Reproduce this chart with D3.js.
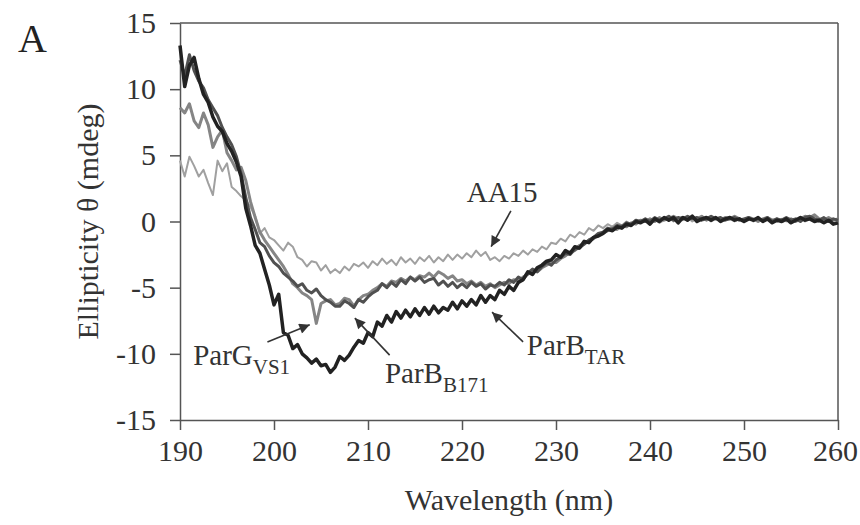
<!DOCTYPE html>
<html>
<head>
  <meta charset="utf8">
  <script src="https://d3js.org/d3.v7.min.js"></script>
  <style>
    body { margin: 0; background: #fff; }
    text { font-family: "Liberation Serif", "Times New Roman", serif; fill: #333; }
    .axis path, .axis line { stroke: #555; stroke-width: 1.5; }
    .axis text { font-size: 30px; fill: #333; }
    .curve { fill: none; stroke-linejoin: round; }
  </style>
</head>
<body>
  <svg id="chart" width="860" height="525"></svg>

  <script>
    // wavelength grid of the scan, 0.5 nm step
    var wavelengths = d3.range(190, 260.25, 0.5);

    var parBTAR = [
      13.3, 10.2, 11.8, 12.4, 10.8, 9.6, 9.0, 7.9, 7.2, 6.8,
      5.9, 5.3, 4.5, 3.4, 1.0, -0.3, -1.8, -2.4, -3.6, -4.8,
      -6.3, -5.5, -8.4, -8.6, -9.6, -9.3, -10.0, -10.3, -10.7, -10.4,
      -10.9, -10.8, -11.4, -11.0, -10.2, -10.5, -10.1, -9.5, -9.0, -9.2,
      -8.4, -8.7, -7.6, -7.9, -7.1, -7.6, -6.8, -7.3, -6.7, -7.2,
      -6.6, -7.1, -6.5, -7.0, -6.4, -6.9, -6.5, -6.7, -6.1, -6.6,
      -6.0, -6.4, -5.9, -6.3, -5.6, -6.1, -5.6, -5.9, -5.2, -5.5,
      -4.9, -5.2, -4.6, -4.4, -3.8, -4.0, -3.5, -3.3, -3.0, -2.9,
      -2.5, -2.7, -2.2, -2.4, -1.9, -2.0, -1.5, -1.6, -1.2, -1.1,
      -0.9, -0.6, -0.7, -0.4, -0.5, -0.2, -0.3, 0.0, -0.1, 0.1,
      -0.2, 0.2, 0.0, 0.3, 0.1, 0.3, -0.1, 0.3, 0.1, 0.4,
      0.0, 0.2, 0.3, 0.1, 0.3, 0.0, 0.2, 0.3, 0.1, 0.2,
      0.0, 0.2, 0.1, 0.3, 0.0, 0.2, -0.1, 0.1, 0.0, 0.2,
      -0.1, 0.1, 0.3, 0.1, 0.2, 0.0, 0.1, -0.1, 0.1, -0.2,
      -0.1
    ];

    var parBB171 = [
      12.2, 11.0, 12.6, 11.4, 10.6, 10.1, 9.2, 8.6, 8.0, 7.1,
      6.4, 5.8, 4.9, 3.6, 1.8, 0.3, -0.6, -1.6, -1.9, -2.6,
      -3.1, -3.4, -3.9, -4.2, -4.5, -4.9, -4.7, -5.2, -5.4, -5.1,
      -5.6, -5.9, -6.1, -6.4, -6.4, -6.0, -6.2, -6.5, -5.9, -6.1,
      -5.7, -5.4, -5.2, -4.7, -5.0, -4.6, -4.9, -4.4, -4.7, -4.2,
      -4.5, -4.2, -4.6, -4.4, -4.3, -4.8, -4.5, -4.9, -4.6, -5.0,
      -4.7, -5.0, -4.6, -4.9, -4.7, -5.1, -4.8, -4.9, -4.6, -4.8,
      -4.4, -4.6, -4.2, -4.4, -3.9, -3.6, -3.8, -3.4, -3.1, -3.3,
      -2.9, -2.7, -2.4, -2.5, -2.1, -2.0, -1.7, -1.4, -1.2, -0.9,
      -0.8, -0.5, -0.6, -0.3, -0.4, -0.1, -0.2, 0.1, 0.0, 0.2,
      0.0, 0.3, 0.1, 0.2, 0.4, 0.1, 0.3, 0.2, 0.4, 0.2,
      0.3, 0.1, 0.2, 0.4, 0.2, 0.3, 0.1, 0.2, 0.3, 0.1,
      0.2, 0.3, 0.1, 0.2, 0.1, 0.3, 0.0, 0.2, 0.1, 0.3,
      0.1, 0.2, 0.0, 0.3, 0.4, 0.2, 0.1, 0.3, 0.0, 0.2,
      0.1
    ];

    var parGVS1 = [
      8.6, 8.2, 8.9, 7.6, 7.1, 8.2, 7.3, 5.6, 6.4, 6.9,
      5.2, 4.6, 3.9, 4.1, 3.1, 1.5, 0.3, -0.8, -1.4, -1.9,
      -2.4, -2.9, -3.4, -4.0, -4.7, -5.0, -5.4, -5.6, -5.9, -7.7,
      -6.2, -6.0, -5.9, -6.3, -6.2, -5.8, -5.9, -6.4, -5.9, -5.6,
      -5.5, -5.2, -5.0, -4.7, -4.9, -4.5, -4.6, -4.3, -4.5, -4.2,
      -4.4, -4.1, -4.2, -3.9, -4.2, -3.8, -4.0, -4.3, -4.1, -4.5,
      -4.4, -4.7, -4.5, -4.8, -4.6, -4.9, -4.7, -5.0, -4.8, -4.6,
      -4.7, -4.4, -4.5, -4.2, -4.0, -3.7, -3.8, -3.5, -3.3, -3.1,
      -3.1, -2.8, -2.6, -2.3, -2.2, -1.8, -1.7, -1.4, -1.3, -1.0,
      -0.9, -0.7, -0.5, -0.6, -0.3, -0.4, -0.1, -0.2, 0.1, 0.0,
      0.2, 0.0, 0.3, 0.1, 0.2, 0.4, 0.2, 0.3, 0.1, 0.3,
      0.2, 0.4, 0.1, 0.3, 0.2, 0.1, 0.3, 0.2, 0.4, 0.2,
      0.1, 0.3, 0.2, 0.0, 0.2, 0.3, 0.1, 0.2, 0.0, 0.1,
      0.2, 0.0, 0.2, 0.4, 0.3, 0.5, 0.2, 0.1, 0.3, 0.1,
      0.2
    ];

    var aa15 = [
      4.6, 3.4, 4.9, 4.2, 3.4, 3.9, 2.9, 2.0, 4.6, 3.8,
      4.4, 2.6, 2.3, 1.9, 1.6, 1.1, 0.4, -0.9, -0.5, -1.2,
      -1.4, -1.8, -2.2, -1.6, -1.9, -2.7, -2.9, -3.4, -3.0, -3.1,
      -3.7, -3.3, -3.9, -3.6, -3.9, -3.4, -3.7, -3.2, -3.4, -3.1,
      -3.5, -3.0, -3.3, -2.8, -3.2, -2.9, -3.3, -2.7, -3.1, -2.8,
      -3.2, -2.7, -3.0, -2.6, -3.1, -2.7, -3.0, -2.5, -2.9, -2.5,
      -2.8, -2.4, -2.7, -2.2, -2.6, -2.3, -2.9, -2.7, -3.0, -2.6,
      -2.8, -2.4, -2.6, -2.2, -2.5, -2.1, -2.3, -1.9, -2.1, -1.6,
      -1.7, -1.3, -1.5, -1.0, -1.2, -0.8, -1.0, -0.5, -0.7, -0.3,
      -0.5, -0.2, -0.4, -0.1, -0.3, 0.0, -0.2, 0.1, -0.1, 0.2,
      0.0, 0.2, -0.1, 0.1, 0.3, 0.0, 0.2, 0.1, 0.3, 0.0,
      0.2, 0.1, 0.3, 0.0, 0.2, 0.1, 0.3, 0.2, 0.0, 0.2,
      0.1, 0.3, 0.0, 0.2, 0.1, 0.2, 0.0, 0.1, 0.2, 0.0,
      0.2, 0.1, 0.3, 0.0, 0.2, 0.1, 0.0, 0.2, 0.1, -0.1,
      0.0
    ];

    var xTicks = [190, 200, 210, 220, 230, 240, 250, 260];
    var yTicks = [-15, -10, -5, 0, 5, 10, 15];

    var series = [
      { name: 'AA15', values: aa15, color: '#a0a0a0', width: 2 },
      { name: 'ParGVS1', values: parGVS1, color: '#858585', width: 3 },
      { name: 'ParBB171', values: parBB171, color: '#505050', width: 3 },
      { name: 'ParBTAR', values: parBTAR, color: '#222222', width: 3.5 }
    ];

    // labels: text anchor and arrow (tail -> tip) in data units
    var labels = [
      { main: 'AA15', sub: '', tx: 220.5, ty: 1.45, ax: 225.2, ay: 0.8, bx: 223.1, by: -1.9 },
      { main: 'ParG', sub: 'VS1', tx: 191.4, ty: -10.85, ax: 199.3, ay: -9.1, bx: 203.8, by: -7.8 },
      { main: 'ParB', sub: 'B171', tx: 211.8, ty: -12.2, ax: 212.3, ay: -10.1, bx: 208.6, by: -7.3 },
      { main: 'ParB', sub: 'TAR', tx: 226.9, ty: -10.1, ax: 226.5, ay: -9.1, bx: 223.2, by: -6.85 }
    ];

    var chart = d3.select('#chart');
    var margin = { top: 23, right: 22, bottom: 105, left: 180 };
    var width = chart.attr('width') - margin.left - margin.right;
    var height = chart.attr('height') - margin.top - margin.bottom;

    var x = d3.scaleLinear().domain([190, 260]).range([0, width]);
    var y = d3.scaleLinear().domain([-15, 15]).range([height, 0]);

    chart.append('defs').append('marker')
      .attr('id', 'head')
      .attr('viewBox', '0 0 10 10')
      .attr('refX', 10).attr('refY', 5)
      .attr('markerWidth', 9).attr('markerHeight', 6.5)
      .attr('markerUnits', 'strokeWidth')
      .attr('orient', 'auto')
      .append('path')
      .attr('d', 'M0,0 L10,5 L0,10 Z')
      .attr('fill', '#333');

    var group = chart.append('g')
      .attr('transform', 'translate(' + margin.left + ', ' + margin.top + ')');

    // frame on top and right
    group.append('line')
      .attr('x1', 0).attr('x2', width).attr('y1', 0).attr('y2', 0)
      .attr('stroke', '#555').attr('stroke-width', 1.5);
    group.append('line')
      .attr('x1', width).attr('x2', width).attr('y1', 0).attr('y2', height)
      .attr('stroke', '#555').attr('stroke-width', 1.5);

    group.append('g')
      .attr('class', 'axis x-axis')
      .attr('transform', 'translate(0, ' + height + ')')
      .call(d3.axisBottom(x).tickValues(xTicks).tickFormat((d) => String(d))
        .tickSize(10).tickPadding(10).tickSizeOuter(0));

    group.append('g')
      .attr('class', 'axis y-axis')
      .call(d3.axisLeft(y).tickValues(yTicks).tickFormat((d) => String(d))
        .tickSize(10).tickPadding(14).tickSizeOuter(0));

    // keep the last x label inside the page
    group.selectAll('.x-axis .tick text')
      .filter((d) => d === 260)
      .attr('dx', -3);

    var line = d3.line()
      .x((d, i) => x(wavelengths[i]))
      .y((d) => y(d));

    group.selectAll('.curve')
      .data(series)
      .enter()
      .append('path')
      .attr('class', 'curve')
      .attr('d', (d) => line(d.values))
      .attr('stroke', (d) => d.color)
      .attr('stroke-width', (d) => d.width);

    // arrows and labels
    group.selectAll('.arrow')
      .data(labels)
      .enter()
      .append('line')
      .attr('class', 'arrow')
      .attr('x1', (d) => x(d.ax)).attr('y1', (d) => y(d.ay))
      .attr('x2', (d) => x(d.bx)).attr('y2', (d) => y(d.by))
      .attr('stroke', '#333').attr('stroke-width', 1.6)
      .attr('marker-end', 'url(#head)');

    var lbl = group.selectAll('.label')
      .data(labels)
      .enter()
      .append('text')
      .attr('class', 'label')
      .attr('x', (d) => x(d.tx))
      .attr('y', (d) => y(d.ty))
      .style('font-size', '29px');
    lbl.append('tspan').text((d) => d.main);
    lbl.append('tspan')
      .attr('dy', 9)
      .style('font-size', '21px')
      .text((d) => d.sub);

    // axis titles
    chart.append('text')
      .attr('x', margin.left + width / 2)
      .attr('y', 510)
      .attr('text-anchor', 'middle')
      .style('font-size', '30px')
      .text('Wavelength (nm)');

    chart.append('text')
      .attr('transform', 'translate(98, ' + (margin.top + height / 2) + ') rotate(-90)')
      .attr('text-anchor', 'middle')
      .style('font-size', '30px')
      .text('Ellipticity θ (mdeg)');

    chart.append('text')
      .attr('x', 18)
      .attr('y', 52)
      .style('font-size', '40px')
      .style('fill', '#222')
      .text('A');
  </script>
</body>
</html>
